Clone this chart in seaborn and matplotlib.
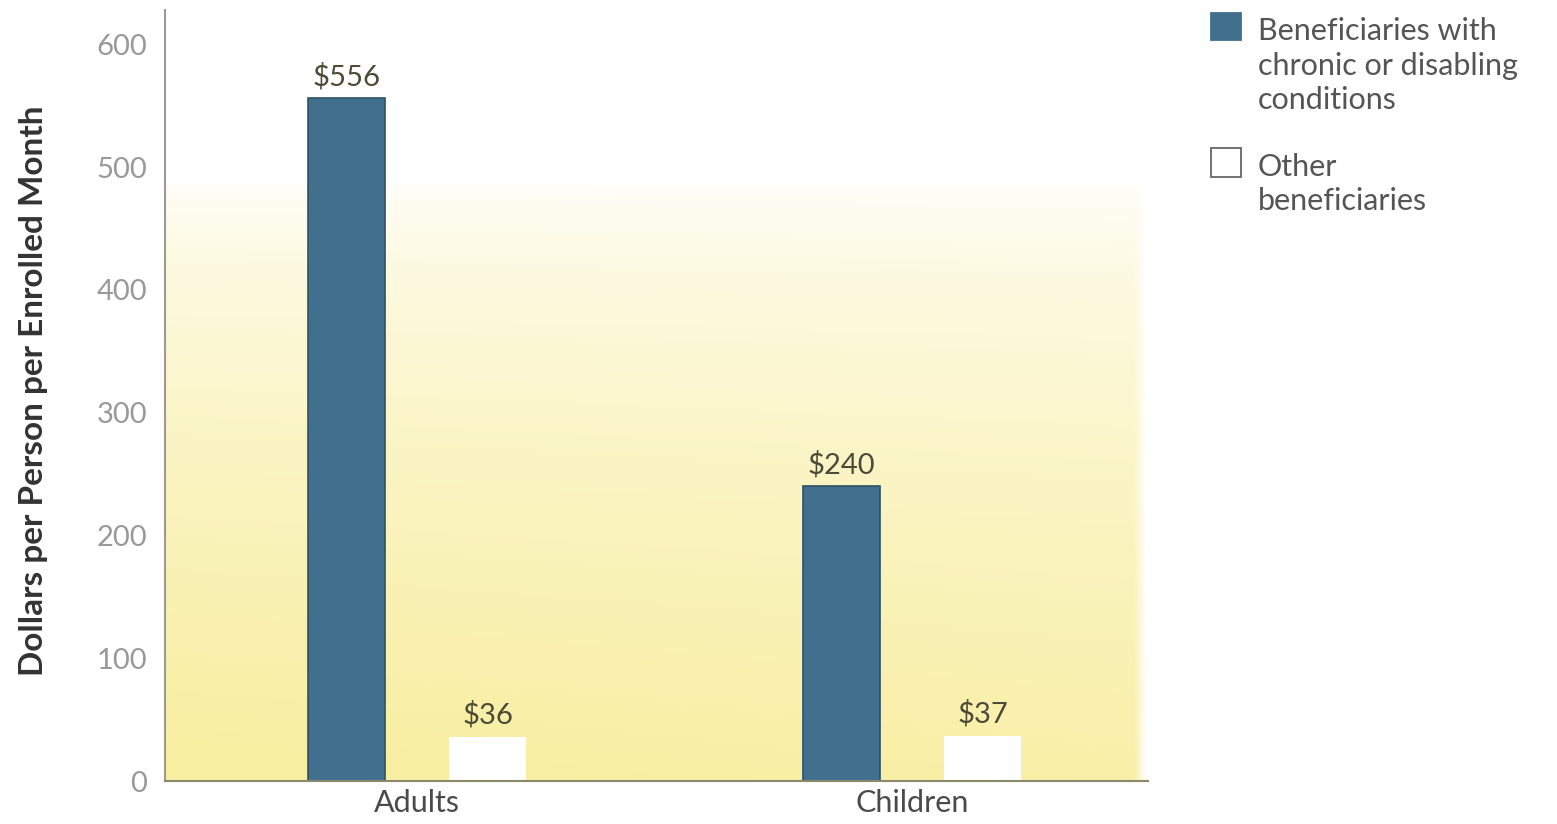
import numpy as np
import pandas as pd
import matplotlib
matplotlib.use("Agg")
import matplotlib.pyplot as plt
from matplotlib.patches import Rectangle
from matplotlib.colors import LinearSegmentedColormap
import seaborn as sns

# Monthly spending per enrolled person
categories = ["Adults", "Children"]
series_names = ["Beneficiaries with\nchronic or disabling\nconditions", "Other\nbeneficiaries"]
chronic_values = [556, 240]
other_values = [36, 37]
y_ticks = [0, 100, 200, 300, 400, 500, 600]

df = pd.DataFrame({
    "group": categories * 2,
    "population": [series_names[0]] * 2 + [series_names[1]] * 2,
    "value": chronic_values + other_values,
})

sns.set_theme(style="white")
plt.rcParams["font.family"] = ["Lato", "DejaVu Sans"]

blue = "#41708f"
W, H = 1557, 824
fig = plt.figure(figsize=(W / 100, H / 100), dpi=100)
ax = fig.add_axes([165 / W, 1 - 781 / H, (1148 - 165) / W, (781 - 10) / H])

sns.barplot(data=df, x="group", y="value", hue="population",
            palette=[blue, "#ffffff"], width=0.57, gap=0.45,
            ax=ax, legend=False, saturation=1, zorder=3)

for patch in ax.patches:
    fc = patch.get_facecolor()
    if fc[0] < 0.5:
        patch.set_edgecolor("#2f5266")
        patch.set_linewidth(1.2)
    else:
        patch.set_edgecolor("none")

# soft yellow wash behind the bars
h, w = 300, 300
yy = np.linspace(0, 1, h)[:, None]
xx = np.linspace(0, 1, w)[None, :]
vert = np.clip((0.78 - yy) / 0.78, 0, 1) ** 0.6
horiz = 1.0 - 0.1 * xx
right_fade = np.clip((1.0 - xx) / 0.012, 0, 1)
strength = vert * horiz * right_fade
cmap = LinearSegmentedColormap.from_list("wash", ["#ffffff", "#f8ee9f"])
ax.imshow(strength, cmap=cmap, vmin=0, vmax=1, origin="lower", aspect="auto",
          extent=(0, 1, 0, 1), transform=ax.transAxes, zorder=0, interpolation="bilinear")
ax.set_xlim(-0.509, 1.477)
ax.set_ylim(0, 628)
ax.set_yticks(y_ticks)
ax.set_yticklabels([str(t) for t in y_ticks])

for c in ax.containers:
    vals = [int(round(b.get_height())) for b in c]
    ax.bar_label(c, labels=[f"${v}" for v in vals], padding=6,
                 fontsize=21, color="#4d4a38", zorder=4)

ax.set_xlabel("")
ax.set_ylabel("Dollars per Person per Enrolled Month", fontsize=24,
              fontweight="bold", color="#333333")
ax.yaxis.set_label_coords(-0.119, 0.506)
ax.tick_params(axis="y", labelsize=21, labelcolor="#999999", length=0, pad=13)
ax.tick_params(axis="x", labelsize=22, labelcolor="#4a4a4a", length=0, pad=6)

for side in ["top", "right"]:
    ax.spines[side].set_visible(False)
ax.spines["left"].set_color("#9a9a9a")
ax.spines["left"].set_linewidth(1.5)
ax.spines["bottom"].set_color("#8a8a6a")
ax.spines["bottom"].set_linewidth(1.5)
ax.spines["left"].set_zorder(5)
ax.spines["bottom"].set_zorder(5)

# legend keys and labels at the upper right
key_specs = [
    (series_names[0], blue, blue, 13, 40, 65.5),
    (series_names[1], "white", "#666666", 148, 177, 184),
]
for text, face, edge, top, bottom, text_center in key_specs:
    fig.patches.append(Rectangle((1211 / W, 1 - bottom / H), 30 / W, (bottom - top) / H,
                                 transform=fig.transFigure, facecolor=face,
                                 edgecolor=edge, linewidth=1.3))
    fig.text(1258 / W, 1 - text_center / H, text, fontsize=22, color="#555555",
             va="center", ha="left", linespacing=1.3)

fig.savefig("out.png", dpi=100, facecolor="white")
